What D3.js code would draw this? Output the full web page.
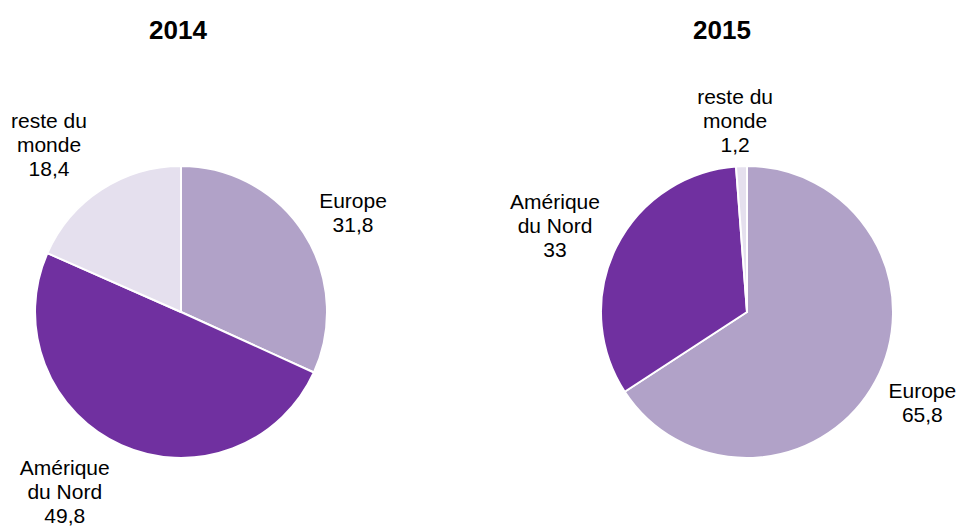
<!DOCTYPE html>
<html>
<head>
<meta charset="utf-8">
<script src="https://cdn.jsdelivr.net/npm/d3@7"></script>
<style>
  html, body { margin: 0; padding: 0; background: #ffffff; }
  svg { display: block; }
  text { font-family: "Liberation Sans", Arial, sans-serif; fill: #000; }
</style>
</head>
<body>
<svg id="chart" width="963" height="528"></svg>
<script>
// Répartition par zone géographique (%)
const categories = ["Europe", "Amérique du Nord", "reste du monde"];
const labelLines = [["Europe"], ["Amérique", "du Nord"], ["reste du", "monde"]];
const years = ["2014", "2015"];
const values2014 = [31.8, 49.8, 18.4];
const values2015 = [65.8, 33, 1.2];
const colors = ["#b1a2c8", "#7030a0", "#e5e0ee"];

const series = [values2014, values2015];

// Hand-placed labels: [rotation in degrees, extra distance in px]
const labelAdjust = {
  "2014": {
    "Europe": [2.8, 1.5],
    "Amérique du Nord": [8.8, 13],
    "reste du monde": [-5.2, 9]
  },
  "2015": {
    "Europe": [-1.1, 1.3],
    "Amérique du Nord": [-2.1, 3.2],
    "reste du monde": [-1.4, -2.2]
  }
};

const svg = d3.select("#chart");
const W = 963, H = 528;
const radius = 146;
const centers = [[181, 312], [747, 312]];
const titleX = [178, 722];

const color = d3.scaleOrdinal().domain(categories).range(colors);
const fmt = v => String(v).replace(".", ",");

const pie = d3.pie().sort(null).value(d => d.value);
const arc = d3.arc().innerRadius(0).outerRadius(radius);

const lineH = 24, fontSize = 21, gap = 12;

// Centre of a label box whose edge touches the ray at distance radius + gap
function labelCentre(a, w, h, extra) {
  const s = Math.sin(a), c = Math.cos(a);
  const t = Math.min(Math.abs(s) > 1e-6 ? (w / 2) / Math.abs(s) : Infinity,
                     Math.abs(c) > 1e-6 ? (h / 2) / Math.abs(c) : Infinity);
  const d = radius + gap + t + extra;
  return [s * d, -c * d];
}

series.forEach((vals, i) => {
  const data = categories.map((c, k) => ({ cat: c, value: vals[k], k }));
  const [ox, oy] = centers[i];
  const g = svg.append("g").attr("transform", `translate(${ox},${oy})`);

  g.selectAll("path.slice")
    .data(pie(data))
    .join("path")
    .attr("class", "slice")
    .attr("d", arc)
    .attr("fill", d => color(d.data.cat))
    .attr("stroke", "#ffffff")
    .attr("stroke-width", 2)
    .attr("stroke-linejoin", "round");

  pie(data).forEach(d => {
    const adj = (labelAdjust[years[i]] || {})[d.data.cat] || [0, 0];
    const a = (d.startAngle + d.endAngle) / 2 + adj[0] * Math.PI / 180;
    const lines = labelLines[d.data.k].concat([fmt(d.data.value)]);
    const t = g.append("text")
      .attr("text-anchor", "middle")
      .style("font-size", fontSize + "px");
    lines.forEach((ln, j) => {
      t.append("tspan").attr("x", 0).attr("y", j * lineH).text(ln);
    });
    const w = t.node().getBBox().width, h = lines.length * lineH;
    const [cx, cy] = labelCentre(a, w, h, adj[1]);
    const y0 = cy - h / 2 + lineH / 2 + fontSize * 0.35;
    t.selectAll("tspan").attr("x", cx).attr("y", (_, j) => y0 + j * lineH);
  });

  svg.append("text")
    .attr("x", titleX[i])
    .attr("y", 39)
    .attr("text-anchor", "middle")
    .style("font-size", "26px")
    .style("font-weight", "bold")
    .text(years[i]);
});
</script>
</body>
</html>
